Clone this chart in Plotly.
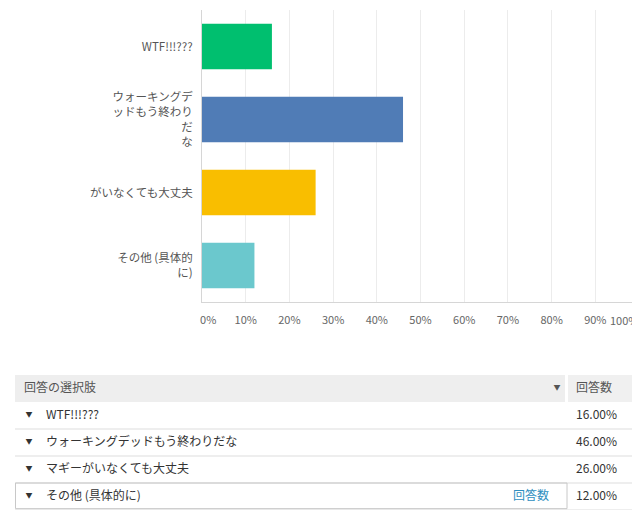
import plotly.graph_objects as go

# 回答データ
bar_labels = ["WTF!!!???", "ウォーキングデ<br>ッドもう終わり<br>だ<br>な", "がいなくても大丈夫", "その他 (具体的<br>に)"]
table_labels = ["WTF!!!???", "ウォーキングデッドもう終わりだな", "マギーがいなくても大丈夫", "その他 (具体的に)"]
percents = [16, 46, 26, 12]
bar_colors = ["#00bf6f", "#507cb6", "#f9be00", "#6bc8cd"]
x_ticks = [0, 10, 20, 30, 40, 50, 60, 70, 80, 90, 100]

header_left = "回答の選択肢"
header_right = "回答数"
link_text = "回答数"

# ページの body に 8px の余白があるので、スクロールが出ない大きさにする
OFF = 8
W, H = 640 - OFF, 518 - 2 * OFF
FONT = "Noto Sans CJK JP, Noto Sans, sans-serif"
NB = "\u00a0"


def px(v):
    return v - OFF


# 端の目盛りラベルは内側に寄せる（右端は注釈で右寄せ）
tick_text = [f"{v}%" for v in x_ticks]
tick_text[0] = NB * 5 + tick_text[0]
tick_text[-1] = ""

fig = go.Figure()

# 横棒グラフ
fig.add_trace(go.Bar(
    y=list(range(len(percents))),
    x=percents,
    orientation="h",
    marker=dict(color=bar_colors, line=dict(width=0)),
    width=0.62,
    hoverinfo="skip",
    xaxis="x", yaxis="y",
))

# 表（行番号を y 座標に使う）
rows = list(range(1, len(table_labels) + 1))


def text_trace(xs, ys, texts, pos, size=12, color="#333"):
    return go.Scatter(
        x=[px(v) for v in xs], y=ys, text=texts, mode="text", textposition=pos,
        textfont=dict(size=size, color=color, family=FONT), hoverinfo="skip",
        xaxis="x2", yaxis="y2",
    )


fig.add_trace(text_trace([24], [0], [header_left], "middle right", color="#555"))
fig.add_trace(text_trace([576], [0], [header_right], "middle right", color="#555"))
fig.add_trace(text_trace([557], [0], ["▼"], "middle center", size=7, color="#555"))
fig.add_trace(text_trace([29] * len(rows), rows, ["▼"] * len(rows), "middle center", size=7))
fig.add_trace(text_trace([46] * len(rows), rows, table_labels, "middle right"))
fig.add_trace(text_trace([576] * len(rows), rows, [f"{p:.2f}%" for p in percents], "middle right"))
fig.add_trace(text_trace([549], [rows[-1]], [link_text], "middle left", color="#2f8fc0"))

shapes = [
    # 見出し行の背景
    dict(type="rect", xref="x2", yref="y2", x0=px(15), x1=px(565), y0=-0.5, y1=0.5,
         fillcolor="#eeeeee", line=dict(width=0), layer="below"),
    dict(type="rect", xref="x2", yref="y2", x0=px(568), x1=px(640), y0=-0.5, y1=0.5,
         fillcolor="#f0f0f0", line=dict(width=0), layer="below"),
]
for r in rows:
    shapes.append(dict(type="line", xref="x2", yref="y2", x0=px(15), x1=px(640), y0=r + 0.5, y1=r + 0.5,
                       line=dict(color="#dddddd", width=1)))
# ホバー中の行の枠
shapes.append(dict(type="rect", xref="x2", yref="y2", x0=px(15.5), x1=px(567),
                   y0=rows[-1] - 0.5, y1=rows[-1] + 0.45,
                   line=dict(color="#c8c8c8", width=1)))

fig.update_layout(
    width=W, height=H,
    margin=dict(l=0, r=0, t=0, b=0),
    paper_bgcolor="white", plot_bgcolor="white",
    font=dict(family=FONT, color="#555", size=11.5),
    showlegend=False,
    shapes=shapes,
    xaxis=dict(
        domain=[px(202) / W, px(639) / W], range=[0, 100],
        tickvals=x_ticks, ticktext=tick_text,
        showgrid=True, gridcolor="#ececec", gridwidth=1,
        showline=True, linecolor="#d6d6d6", linewidth=1,
        zeroline=False, ticks="", ticklabelstandoff=8,
        tickfont=dict(size=11, color="#666"),
        automargin=False, fixedrange=True, anchor="y",
    ),
    yaxis=dict(
        domain=[(H - px(302)) / H, (H - px(10)) / H],
        tickvals=list(range(len(bar_labels))), ticktext=bar_labels,
        range=[len(bar_labels) - 0.5, -0.5],
        showgrid=False, showline=True, linecolor="#d6d6d6", linewidth=1,
        zeroline=False, ticks="", ticklabelstandoff=6,
        tickfont=dict(size=11.5, color="#555"),
        automargin=False, fixedrange=True, anchor="x",
    ),
    xaxis2=dict(domain=[0, 1], range=[0, W], visible=False, automargin=False,
                fixedrange=True, anchor="y2"),
    yaxis2=dict(domain=[0, (H - px(375)) / H], range=[4.5, -0.5],
                visible=False, automargin=False, fixedrange=True, anchor="x2"),
)

# 右端の目盛りラベル
fig.add_annotation(
    x=x_ticks[-1], xref="x", y=0, yref="y domain",
    text=f"{x_ticks[-1]}%", showarrow=False,
    xanchor="right", yanchor="top", yshift=-8, xshift=1,
    font=dict(size=11, color="#666", family=FONT),
)

fig.write_html("out.html")
